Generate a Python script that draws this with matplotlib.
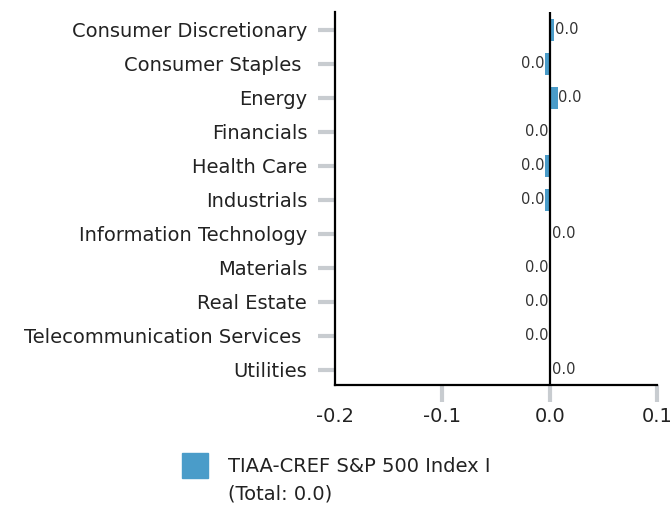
import matplotlib.pyplot as plt

plt.rcParams['font.family'] = ['DejaVu Sans']

# sector contributions, top to bottom
sectors = ['Consumer Discretionary', 'Consumer Staples ', 'Energy', 'Financials',
           'Health Care', 'Industrials', 'Information Technology', 'Materials',
           'Real Estate', 'Telecommunication Services ', 'Utilities']
values = [0.004, -0.004, 0.0075, -0.0004, -0.004, -0.004, 0.0012, -0.0004,
          -0.0004, -0.0004, 0.0012]
fund_name = 'TIAA-CREF S&P 500 Index I'
total = 0.0
xticks = [-0.1, 0.0, 0.1]
xlabels = ['-0.2', '-0.1', '0.0', '0.1']

bar_color = '#4a9cc9'
tick_gray = '#c8ccd0'
text_color = '#222222'

fig = plt.figure(figsize=(6.7, 5.08), dpi=100)
ax = fig.add_axes([335 / 670, 1 - 385 / 508, 322 / 670, 373 / 508])

rows = list(range(len(sectors)))
ax.barh(rows, values, height=0.65, color=bar_color, zorder=2)
ax.axvline(0, color='black', lw=1.6, zorder=3)

for y, v in zip(rows, values):
    if v >= 0:
        ax.text(v + 0.0006, y, '%.1f' % v, ha='left', va='center', fontsize=10.5, color='#333333')
    else:
        ax.text(v - 0.0005, y, '%.1f' % abs(v), ha='right', va='center', fontsize=10.5, color='#333333')

ax.set_xlim(-0.2, 0.1)
ax.set_ylim(10.45, -0.52)

ax.set_yticks(rows)
ax.set_yticklabels(sectors, fontsize=14, color=text_color)
ax.tick_params(axis='y', length=12, width=3, color=tick_gray, pad=8)

ax.set_xticks(xticks)
ax.set_xticklabels([])
ax.tick_params(axis='x', length=12, width=3, color=tick_gray)
for x, lab in zip([-0.2] + xticks, xlabels):
    ax.text(x, -0.085, lab, transform=ax.get_xaxis_transform(), ha='center', va='center',
            fontsize=14, color=text_color)

for side in ['top', 'right']:
    ax.spines[side].set_visible(False)
for side in ['left', 'bottom']:
    ax.spines[side].set_color('black')
    ax.spines[side].set_linewidth(1.6)
    ax.spines[side].set_zorder(4)

# legend drawn by hand below the axis
fig.patches.append(plt.Rectangle((182 / 670, 1 - 478 / 508), 26 / 670, 25 / 508,
                                 transform=fig.transFigure, color=bar_color))
fig.text(228 / 670, 1 - 467 / 508, fund_name, fontsize=14, va='center', color=text_color)
fig.text(228 / 670, 1 - 494 / 508, '(Total: %.1f)' % total, fontsize=14, va='center', color=text_color)

fig.savefig('out.png', dpi=100)
